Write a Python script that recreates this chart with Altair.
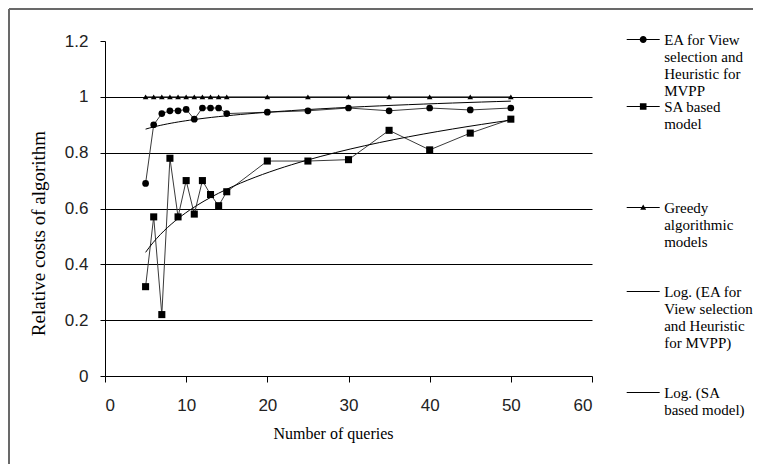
import altair as alt
import pandas as pd

queries = [5, 6, 7, 8, 9, 10, 11, 12, 13, 14, 15, 20, 25, 30, 35, 40, 45, 50]
ea_values = [0.69, 0.90, 0.94, 0.95, 0.95, 0.955, 0.92, 0.96, 0.96, 0.96, 0.94,
             0.945, 0.95, 0.96, 0.95, 0.96, 0.953, 0.96]
sa_values = [0.32, 0.57, 0.22, 0.78, 0.57, 0.70, 0.58, 0.70, 0.65, 0.61, 0.66,
             0.77, 0.77, 0.775, 0.88, 0.81, 0.87, 0.92]
greedy_values = [1.0] * len(queries)

series_names = ["EA", "SA", "Greedy"]
legend_labels = [
    "EA for View|selection and|Heuristic for|MVPP",
    "SA based|model| | | | ",
    "Greedy|algorithmic|models| | ",
    "Log. (EA for|View selection|and Heuristic|for MVPP)| | ",
    "Log. (SA|based model)",
]
legend_markers = ["circle", "square", "triangle", "none", "none"]
y_ticks = [0, 0.2, 0.4, 0.6, 0.8, 1.0, 1.2]
x_ticks = [0, 10, 20, 30, 40, 50, 60]

rows = []
for name, vals in zip(series_names, [ea_values, sa_values, greedy_values]):
    for q, v in zip(queries, vals):
        rows.append({"x": q, "value": v, "series": name})
df = pd.DataFrame(rows)


# legend symbol paths (units of r = sqrt(symbolSize)/2 = 5px)
def symbol_path(marker):
    p = "M-3.3,-0.1H3.3V0.1H-3.3Z"
    if marker == "circle":
        p += "M0.7,0A0.7,0.7,0,1,1,-0.7,0A0.7,0.7,0,1,1,0.7,0Z"
    elif marker == "square":
        p += "M-0.66,-0.66H0.66V0.66H-0.66Z"
    elif marker == "triangle":
        p += "M0,-0.6L0.6,0.45H-0.6Z"
    return p


legend_paths = [symbol_path(m) for m in legend_markers]

xenc = alt.X("x:Q", scale=alt.Scale(domain=[0, 60]),
             axis=alt.Axis(values=x_ticks, title="Number of queries", grid=False,
                           titleX=228, titleY=57, titleBaseline="middle", titleAlign="center",
                           labelPadding=15, tickSize=6))
yenc = alt.Y("value:Q", scale=alt.Scale(domain=[0, 1.2]),
             axis=alt.Axis(values=y_ticks, title="Relative costs of algorithm",
                           format="~g", grid=True,
                           gridOpacity=alt.condition("datum.value > 1.1 || datum.value < 0.1", alt.value(0), alt.value(1)),
                           titleX=-67, titleY=192, titleBaseline="middle", titleAlign="center",
                           titleAngle=270, titleFontSize=19,
                           labelPadding=12, tickSize=5))

base = alt.Chart(df)

lines = base.mark_line(color="#3a3a3a", strokeWidth=1).encode(x=xenc, y=yenc, detail="series:N")

ea_pts = base.transform_filter("datum.series == 'EA'").mark_point(
    shape="circle", filled=True, color="black", size=45, opacity=1).encode(x="x:Q", y="value:Q")
sa_pts = base.transform_filter("datum.series == 'SA'").mark_point(
    shape="square", filled=True, color="black", size=50, opacity=1).encode(x="x:Q", y="value:Q")
gr_pts = base.transform_filter("datum.series == 'Greedy'").mark_point(
    shape="triangle-up", filled=True, color="black", size=32, opacity=1).encode(x="x:Q", y="value:Q")

ea_fit = base.transform_filter("datum.series == 'EA'").transform_regression(
    "x", "value", method="log").mark_line(color="black", strokeWidth=1).encode(x="x:Q", y="value:Q")
sa_fit = base.transform_filter("datum.series == 'SA'").transform_regression(
    "x", "value", method="log").mark_line(color="black", strokeWidth=1).encode(x="x:Q", y="value:Q")

legend_df = pd.DataFrame({"entry": legend_labels})
legend_layer = alt.Chart(legend_df).transform_filter("false").mark_point(
    filled=True, color="black", opacity=1).encode(
    shape=alt.Shape("entry:N", scale=alt.Scale(domain=legend_labels, range=legend_paths),
                    legend=alt.Legend(orient="none", legendX=530.7, legendY=-9, title=None,
                                      labelExpr="split(datum.label, '|')",
                                      labelFont="Liberation Serif", labelFontSize=15,
                                      labelColor="black",
                                      labelBaseline="middle", labelLimit=0, labelOffset=13.5,
                                      symbolSize=100, symbolStrokeWidth=0,
                                      symbolFillColor="black",
                                      rowPadding=0, padding=0))
)

frame_left = alt.Chart(legend_df).mark_rule(color="#6a6a6a", strokeWidth=1.5).encode(
    x=alt.value(-96), y=alt.value(-32), y2=alt.value(900))
frame_top = alt.Chart(legend_df).mark_rule(color="#6a6a6a", strokeWidth=1.5).encode(
    x=alt.value(-96), x2=alt.value(900), y=alt.value(-32))

chart = alt.layer(frame_left, frame_top, lines, ea_fit, sa_fit, ea_pts, sa_pts, gr_pts, legend_layer).properties(
    width=487, height=335,
    padding={"left": 97, "top": 33, "right": 161, "bottom": 88},
    autosize=alt.AutoSizeParams(type="none"),
    background="white",
).configure_view(stroke=None).configure_axis(
    domainColor="black", tickColor="black", gridColor="black", gridWidth=1,
    labelFont="Liberation Sans", labelFontSize=17, labelColor="#222",
    titleFont="Liberation Serif", titleFontSize=16, titleFontWeight="normal", titleColor="black",
).configure_legend(labelFont="Liberation Serif", labelFontSize=15, labelColor="black")

chart.save("out.html", embed_options={"renderer": "svg", "actions": False})
